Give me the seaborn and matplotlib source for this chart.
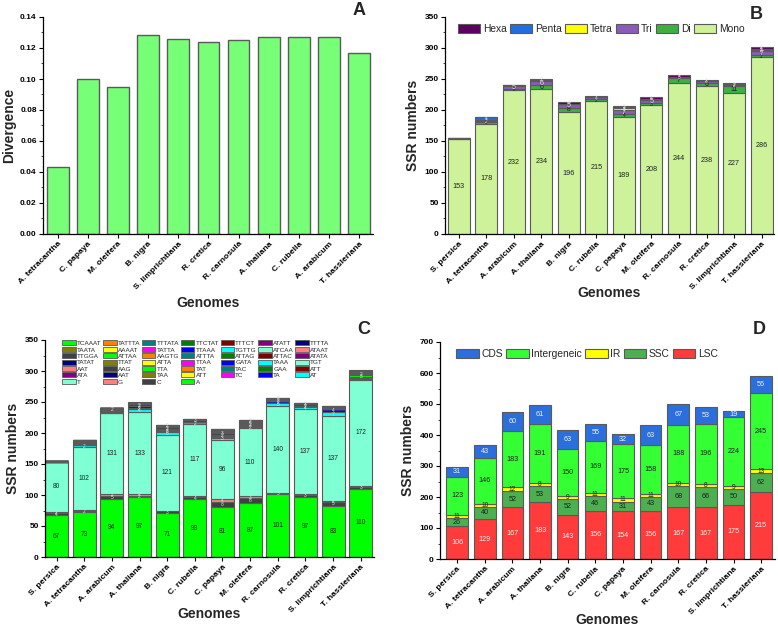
import matplotlib
matplotlib.use("Agg")
import matplotlib.pyplot as plt
from matplotlib.patches import Patch
from matplotlib.ticker import MultipleLocator
import seaborn as sns
import pandas as pd
import numpy as np

# ---------------- data ----------------
# Panel A: divergence
div_genomes = ["A. tetracantha", "C. papaya", "M. oleifera", "B. nigra", "S. limprichtiana",
               "R. cretica", "R. carnosula", "A. thaliana", "C. rubella", "A. arabicum",
               "T. hassleriana"]
divergence = [0.043, 0.100, 0.095, 0.1285, 0.126, 0.124, 0.125, 0.127, 0.127, 0.127, 0.1165]

# Panels B-D genome order
genomes = ["S. persica", "A. tetracantha", "A. arabicum", "A. thaliana", "B. nigra",
           "C. rubella", "C. papaya", "M. oleifera", "R. carnosula", "R. cretica",
           "S. limprichtiana", "T. hassleriana"]

# Panel B: SSR type counts
ssr_mono = [153, 178, 232, 234, 196, 215, 189, 208, 244, 238, 227, 286]
ssr_di = [1, 3, 2, 6, 8, 2, 4, 3, 7, 6, 11, 2]
ssr_tri = [1, 2, 5, 6, 5, 4, 7, 5, 3, 3, 2, 7]
ssr_tetra = [0, 1, 1, 1, 0, 0, 3, 0, 0, 0, 0, 2]
ssr_penta = [0, 4, 0, 1, 1, 0, 2, 1, 0, 0, 2, 2]
ssr_hexa = [0, 1, 1, 2, 3, 1, 2, 4, 2, 2, 1, 2]

# Panel C: motif counts (stack order bottom -> top)
motifs = ["A", "C", "G", "T", "AT", "TA", "TC", "ATT", "TAA", "AAT", "ATA", "ATT_2",
          "GAA", "TAC", "TAT", "TTA", "AAG", "AAT_2", "TGT", "TAAA", "GATA", "TTAA",
          "ATTA", "TTAT", "TATAT", "ATATA", "ATTAC", "ATTAG", "ATTTA", "AAGTG", "ATTAA",
          "TTGGA", "ATAAT", "ATCAA", "TGTTG", "TTAAA", "TATTA", "AAAAT", "TAATA", "TTTTA",
          "ATATT", "TTTCT", "TTCTAT", "TTTATA", "TATTTA", "TCAAAT"]
motif_A = [67, 73, 94, 97, 71, 93, 81, 87, 101, 97, 83, 110]
motif_C = [4, 2, 5, 2, 3, 4, 8, 8, 3, 3, 5, 3]
motif_G = [2, 1, 2, 2, 1, 1, 4, 3, 0, 1, 2, 1]
motif_T = [80, 102, 131, 133, 121, 117, 96, 110, 140, 137, 137, 172]
motif_minor = {
    "AT":     [1, 2, 1, 4, 5, 2, 3, 2, 5, 4, 7, 1],
    "TA":     [0, 1, 1, 2, 3, 0, 1, 1, 2, 2, 4, 1],
    "ATT":    [0, 0, 1, 1, 0, 0, 1, 0, 0, 0, 0, 1],
    "TAA":    [0, 1, 0, 0, 0, 0, 0, 0, 0, 0, 0, 0],
    "AAT":    [0, 0, 1, 2, 1, 1, 1, 2, 1, 0, 1, 0],
    "ATA":    [0, 0, 1, 0, 0, 0, 0, 2, 0, 0, 0, 0],
    "ATT_2":  [0, 0, 0, 0, 2, 0, 0, 0, 0, 0, 0, 0],
    "GAA":    [0, 0, 0, 0, 0, 0, 0, 0, 0, 0, 0, 1],
    "TAT":    [0, 0, 0, 0, 0, 0, 2, 0, 0, 0, 0, 0],
    "TTA":    [0, 0, 0, 1, 0, 0, 0, 0, 0, 0, 0, 3],
    "AAG":    [1, 1, 2, 2, 2, 3, 3, 1, 2, 3, 1, 2],
    "TAAA":   [0, 0, 0, 1, 0, 0, 0, 0, 0, 0, 0, 0],
    "TTAA":   [0, 0, 0, 0, 0, 0, 1, 0, 0, 0, 0, 0],
    "ATTA":   [0, 0, 1, 0, 0, 0, 1, 0, 0, 0, 0, 1],
    "TTAT":   [0, 1, 0, 0, 0, 0, 1, 0, 0, 0, 0, 1],
    "TATAT":  [0, 1, 0, 0, 0, 0, 0, 0, 0, 0, 1, 0],
    "AAGTG":  [0, 0, 0, 0, 0, 0, 1, 0, 0, 0, 0, 0],
    "ATTAA":  [0, 1, 0, 0, 0, 0, 0, 0, 0, 0, 0, 0],
    "TTGGA":  [0, 0, 0, 0, 0, 0, 0, 0, 0, 0, 0, 1],
    "TTTTA":  [0, 1, 0, 1, 0, 0, 1, 1, 0, 0, 1, 1],
    "ATATT":  [0, 1, 0, 0, 0, 0, 0, 0, 0, 0, 0, 0],
    "TTTCT":  [0, 0, 0, 0, 1, 0, 0, 0, 0, 0, 0, 0],
    "TTCTAT": [0, 0, 0, 1, 1, 0, 0, 2, 0, 0, 0, 0],
    "TTTATA": [0, 1, 1, 0, 2, 1, 1, 2, 2, 2, 1, 1],
    "TATTTA": [0, 0, 0, 0, 0, 0, 1, 0, 0, 0, 0, 0],
    "TCAAAT": [0, 0, 0, 1, 0, 0, 0, 0, 0, 0, 0, 1],
}

# Panel D: SSR location
loc_lsc = [106, 129, 167, 183, 143, 156, 154, 156, 167, 167, 175, 215]
loc_ssc = [26, 40, 52, 53, 52, 46, 31, 43, 68, 66, 50, 62]
loc_ir = [11, 10, 12, 8, 9, 11, 11, 11, 10, 8, 9, 13]
loc_intergenic = [123, 146, 183, 191, 150, 169, 175, 158, 188, 196, 224, 245]
loc_cds = [31, 43, 60, 61, 63, 55, 32, 63, 67, 53, 19, 56]

# ---------------- style ----------------
sns.set_theme(style="ticks")
plt.rcParams["font.family"] = ["Liberation Sans", "DejaVu Sans"]
plt.rcParams["font.weight"] = "bold"
plt.rcParams["axes.labelweight"] = "bold"

EDGE = "#5a5a5a"
TICK_FS = 6.1
YTICK_FS = 6.0
LABEL_FS = 10
LETTER_FS = 13

motif_cycle = ["#00ff00", "#ff8000", "#008080", "#008000", "#800000", "#800080",
               "#000080", "#808000", "#ffff00", "#ff00ff", "#0000ff", "#00ffff",
               "#7fffd4", "#ff7f7f", "#404040"]

W, H = 778, 627
fig = plt.figure(figsize=(W / 100, H / 100), dpi=100)


def px_axes(left, top, right, bottom):
    return fig.add_axes([left / W, 1 - bottom / H, (right - left) / W, (bottom - top) / H])


def style_axes(ax, names, ylabel, letter_xy, letter, major, minor, xlab_y):
    sns.despine(ax=ax)
    for sp in ax.spines.values():
        sp.set_linewidth(0.9)
        sp.set_color("black")
    ax.yaxis.set_major_locator(MultipleLocator(major))
    ax.yaxis.set_minor_locator(MultipleLocator(minor))
    ax.tick_params(axis="both", which="major", direction="out", length=3, width=0.8,
                   pad=1.5, colors="black")
    ax.tick_params(axis="y", which="minor", direction="out", length=1.8, width=0.6)
    ax.tick_params(axis="y", labelsize=YTICK_FS)
    ax.set_xticks(range(len(names)))
    ax.set_xticklabels(names, rotation=45, ha="right", rotation_mode="anchor",
                       fontsize=TICK_FS, fontweight="bold")
    for lab in ax.get_yticklabels():
        lab.set_fontweight("bold")
    ax.set_ylabel(ylabel, fontsize=LABEL_FS, fontweight="bold", labelpad=3)
    ax.set_xlabel("Genomes", fontsize=LABEL_FS, fontweight="bold")
    # place x label at the same spot as in the original figure (pixel row of its top)
    bbox = ax.get_position()
    bottom_px = (1 - bbox.y0) * H
    ax.xaxis.set_label_coords(0.5, (bottom_px - xlab_y) / (bbox.height * H))
    fig.text(letter_xy[0] / W, 1 - letter_xy[1] / H, letter, ha="center", va="top",
             fontsize=LETTER_FS, fontweight="bold")


def stack(ax, layers, colors, width, label_fn=None):
    bottom = np.zeros(len(genomes))
    x = np.arange(len(genomes))
    for i, (vals, col) in enumerate(zip(layers, colors)):
        vals = np.asarray(vals, dtype=float)
        ax.bar(x, vals, bottom=bottom, width=width, color=col, edgecolor=EDGE,
               linewidth=0.8)
        if label_fn is not None:
            for xi, b, v in zip(x, bottom, vals):
                if v > 0:
                    label_fn(ax, i, xi, b, v)
        bottom += vals
    return bottom


# ---------------- Panel A ----------------
axA = px_axes(43, 17, 373, 234)
dfA = pd.DataFrame({"genome": div_genomes, "divergence": divergence})
sns.barplot(data=dfA, x="genome", y="divergence", ax=axA, color="#77ff77",
            saturation=1, width=0.72, edgecolor=EDGE, linewidth=1.0)
axA.set_ylim(0, 0.14)
axA.set_xlim(-0.49, len(div_genomes) - 0.54)
style_axes(axA, div_genomes, "Divergence", (359, 2), "A", 0.02, 0.01, 296)
axA.set_yticklabels([f"{v:.2f}" for v in axA.get_yticks()], fontsize=YTICK_FS,
                    fontweight="bold")

# ---------------- Panel B ----------------
axB = px_axes(445, 17, 774, 234)
b_layers = [ssr_mono, ssr_di, ssr_tri, ssr_tetra, ssr_penta, ssr_hexa]
b_names = ["Mono", "Di", "Tri", "Tetra", "Penta", "Hexa"]
b_colors = ["#cdf29a", "#3cb043", "#8a5cb5", "#ffff00", "#1f6fe0", "#5c0060"]


def label_b(ax, i, x, b, v):
    if i == 0:
        ax.text(x, b + v / 2, f"{int(v)}", ha="center", va="center", fontsize=5.2,
                fontweight="normal", color="#222222")
    elif v >= 2:
        ax.text(x, b + v / 2, f"{int(v)}", ha="center", va="center",
                fontsize=5 if v >= 5 else 3.5, fontweight="normal",
                color="#222222" if i == 1 else "#e8e8e8")


stack(axB, b_layers, b_colors, 0.8, label_b)
axB.set_ylim(0, 350)
axB.set_xlim(-0.5, len(genomes) - 0.55)
style_axes(axB, genomes, "SSR numbers", (756, 6), "B", 50, 25, 286)
handles = [Patch(facecolor=c, edgecolor=EDGE, linewidth=0.8, label=n)
           for n, c in zip(b_names[::-1], b_colors[::-1])]
axB.legend(handles=handles, loc="upper left", bbox_to_anchor=(0.02, 0.995), ncol=6,
           frameon=False, handlelength=2.2, handleheight=1.0,
           handletextpad=0.25, columnspacing=0.3, borderaxespad=0.2,
           prop={"size": 7.4, "weight": "normal"})

# ---------------- Panel C ----------------
axC = px_axes(45, 340, 374, 557)
c_layers, c_colors = [], []
for i, m in enumerate(motifs):
    if m == "A":
        vals = motif_A
    elif m == "C":
        vals = motif_C
    elif m == "G":
        vals = motif_G
    elif m == "T":
        vals = motif_T
    else:
        vals = motif_minor.get(m, [0] * len(genomes))
    c_layers.append(vals)
    c_colors.append(motif_cycle[(len(motifs) - 1 - i) % len(motif_cycle)])


def label_c(ax, i, x, b, v):
    if motifs[i] in ("A", "T"):
        ax.text(x, b + v / 2, f"{int(v)}", ha="center", va="center", fontsize=4.8,
                fontweight="normal", color="#222222")
    elif v >= 2:
        ax.text(x, b + v / 2, f"{int(v)}", ha="center", va="center", fontsize=3.5,
                fontweight="normal", color="#dddddd")


stack(axC, c_layers, c_colors, 0.83, label_c)
axC.set_ylim(0, 350)
axC.set_xlim(-0.42, len(genomes) - 0.52)
style_axes(axC, genomes, "SSR numbers", (364, 321), "C", 50, 25, 607)
legend_items = list(zip(motifs, c_colors))[::-1]
ncol = 7
ordered = []
for j in range(ncol):
    for r in range(int(np.ceil(len(legend_items) / ncol))):
        k = r * ncol + j
        if k < len(legend_items):
            ordered.append(legend_items[k])
handles = [Patch(facecolor=c, edgecolor=EDGE, linewidth=0.6, label=n.split("_")[0])
           for n, c in ordered]
axC.legend(handles=handles, loc="upper left", bbox_to_anchor=(0.045, 1.01), ncol=ncol,
           frameon=False, handlelength=2.1, handleheight=0.85, handletextpad=0.2,
           columnspacing=0.25, labelspacing=0.1, borderaxespad=0.0,
           prop={"size": 4.6, "weight": "normal"})

# ---------------- Panel D ----------------
axD = px_axes(440, 342, 775, 559)
d_layers = [loc_lsc, loc_ssc, loc_ir, loc_intergenic, loc_cds]
d_names = ["LSC", "SSC", "IR", "Intergeneic", "CDS"]
d_colors = ["#ff3b3b", "#4caf50", "#ffff00", "#33ff33", "#2b6fdc"]


def label_d(ax, i, x, b, v):
    col = "#f0f0f0" if i in (0, 4) else "#222222"
    ax.text(x, b + v / 2, f"{int(v)}", ha="center", va="center",
            fontsize=5.2 if v >= 15 else 4.8, fontweight="normal", color=col)


stack(axD, d_layers, d_colors, 0.78, label_d)
axD.set_ylim(0, 700)
axD.set_xlim(-0.62, len(genomes) - 0.5)
style_axes(axD, genomes, "SSR numbers", (759, 321), "D", 100, 50, 613)
handles = [Patch(facecolor=c, edgecolor=EDGE, linewidth=0.8, label=n)
           for n, c in zip(d_names[::-1], d_colors[::-1])]
axD.legend(handles=handles, loc="upper left", bbox_to_anchor=(0.03, 0.995), ncol=5,
           frameon=False, handlelength=2.2, handleheight=1.0, handletextpad=0.25,
           columnspacing=0.3, borderaxespad=0.2, prop={"size": 7.4, "weight": "normal"})

fig.savefig("out.png", dpi=100)
